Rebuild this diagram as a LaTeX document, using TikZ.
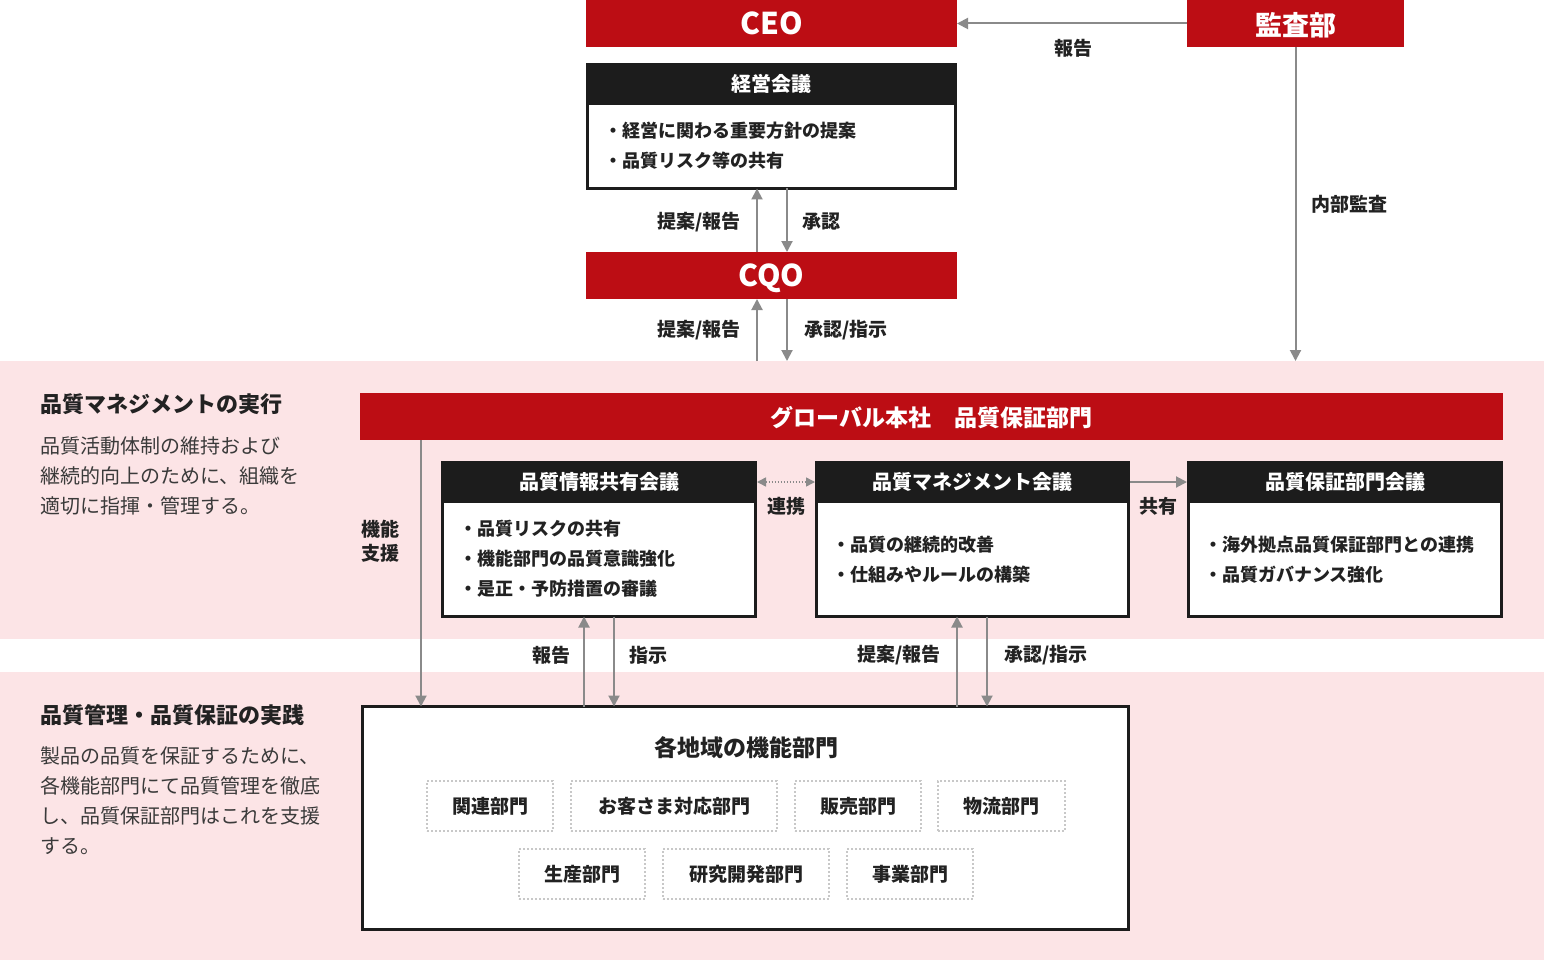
\documentclass[tikz,border=0pt]{standalone}
\usepackage{fontspec}
\setmainfont{Noto Sans CJK JP}
\usetikzlibrary{arrows.meta}
\definecolor{qred}{HTML}{BC0D14}
\definecolor{qpink}{HTML}{FCE4E6}
\definecolor{qdark}{HTML}{1C1C1C}
\definecolor{qgray}{HTML}{8A8A8A}
\definecolor{qdot}{HTML}{C8C8C8}
\definecolor{qtext}{HTML}{222222}
\definecolor{qbody}{HTML}{3A3A3A}
\newcommand{\fs}[1]{\fontsize{#1}{#1}\selectfont}
\begin{document}
\begin{tikzpicture}[x=1pt,y=-1pt,
  redbar/.style={fill=qred, text=white, inner sep=0pt, outer sep=0pt, text depth=0pt, font=\bfseries\fs{30}},
  framebox/.style={draw=qdark, line width=3pt, fill=white, inner sep=0pt, outer sep=0pt},
  headbar/.style={fill=qdark, text=white, inner sep=0pt, outer sep=0pt, font=\bfseries\fs{20}},
  bullet/.style={anchor=west, inner sep=0pt, text=qtext, font=\bfseries\fs{18}},
  lbl/.style={inner sep=0pt, text=qtext, font=\bfseries\fs{19}},
  unitbox/.style={draw=qdot, line width=1.5pt, dash pattern=on 2pt off 2pt, inner sep=0pt, outer sep=0pt, text=qtext, font=\bfseries\fs{19}, minimum height=50pt},
  arr/.style={draw=qgray, line width=2pt, -{Triangle[width=11pt,length=11pt]}},
  dotarr/.style={draw=qgray, line width=1.5pt, dash pattern=on 1.5pt off 1.5pt, {Triangle[width=9pt,length=9pt]}-{Triangle[width=9pt,length=9pt]}},
  sidehead/.style={anchor=west, inner sep=0pt, text=qtext, font=\bfseries\fs{22}},
  sidebody/.style={anchor=west, inner sep=0pt, text=qbody, font=\fs{20}}
]
\useasboundingbox (0,0) rectangle (1544,960);
\fill[white] (0,0) rectangle (1544,960);
% bands
\fill[qpink] (0,361) rectangle (1544,639);
\fill[qpink] (0,672) rectangle (1544,960);
\coordinate (bandtop) at (0,361);

% top
\node[redbar, minimum width=371pt, minimum height=47pt] (ceo) at (771.5,23.5) {CEO};
\node[redbar, minimum width=217pt, minimum height=47pt, font=\bfseries\fs{27}] (audit) at (1295.5,23.5) {監査部};
\node[framebox, minimum width=368pt, minimum height=124pt] (keiei) at (771.5,126.5) {};
\node[headbar, minimum width=371pt, minimum height=42pt] (keieih) at (771.5,84) {経営会議};
\node[bullet] (kb1) at (604,131) {・経営に関わる重要方針の提案};
\node[bullet] (kb2) at (604,161) {・品質リスク等の共有};
\node[redbar, minimum width=371pt, minimum height=47pt] (cqo) at (771.5,275.5) {CQO};

\draw[arr] (audit.west) -- (ceo.east);
\node[lbl] (l1) at (1073,48) {報告};
\draw[arr] ([xshift=-14.5pt]cqo.north) -- ([xshift=-14.5pt]keiei.south);
\draw[arr] ([xshift=15.5pt]keiei.south) -- ([xshift=15.5pt]cqo.north);
\node[lbl] (l2) at (699,222) {提案/報告};
\node[lbl] (l3) at (821,222) {承認};
\draw[arr] ([xshift=-14.5pt]cqo.south |- bandtop) -- ([xshift=-14.5pt]cqo.south);
\draw[arr] ([xshift=15.5pt]cqo.south) -- ([xshift=15.5pt]cqo.south |- bandtop);
\node[lbl] (l4) at (699,330) {提案/報告};
\node[lbl] (l5) at (846,330) {承認/指示};
\draw[arr] (audit.south) -- (audit.south |- bandtop);
\node[lbl] (l6) at (1349,204) {内部監査};

% HQ
\node[redbar, minimum width=1143pt, minimum height=47pt, font=\bfseries\fs{23}] (hq) at (931.5,416.5) {グローバル本社　品質保証部門};

% meetings
\node[framebox, minimum width=313pt, minimum height=154pt] (m1) at (599,539.5) {};
\node[headbar, minimum width=316pt, minimum height=42pt] (m1h) at (599,482) {品質情報共有会議};
\node[bullet] (m1b1) at (459,529) {・品質リスクの共有};
\node[bullet] (m1b2) at (459,559) {・機能部門の品質意識強化};
\node[bullet] (m1b3) at (459,589) {・是正・予防措置の審議};

\node[framebox, minimum width=312pt, minimum height=154pt] (m2) at (972.5,539.5) {};
\node[headbar, minimum width=315pt, minimum height=42pt] (m2h) at (972.5,482) {品質マネジメント会議};
\node[bullet] (m2b1) at (832,545) {・品質の継続的改善};
\node[bullet] (m2b2) at (832,575) {・仕組みやルールの構築};

\node[framebox, minimum width=313pt, minimum height=154pt] (m3) at (1345,539.5) {};
\node[headbar, minimum width=316pt, minimum height=42pt] (m3h) at (1345,482) {品質保証部門会議};
\node[bullet] (m3b1) at (1204,545) {・海外拠点品質保証部門との連携};
\node[bullet] (m3b2) at (1204,575) {・品質ガバナンス強化};

\draw[dotarr] (m1h.east) -- (m2h.west);
\node[lbl] (l7) at (786,506) {連携};
\draw[arr] (m2h.east) -- (m3h.west);
\node[lbl] (l8) at (1158,506) {共有};

% bottom
\node[framebox, minimum width=766pt, minimum height=223pt] (bot) at (745.5,818) {};
\node[lbl, font=\bfseries\fs{23}] (bt) at (746,748) {各地域の機能部門};
\node[unitbox, minimum width=126pt] (u1) at (490,806) {関連部門};
\node[unitbox, minimum width=206pt] (u2) at (674,806) {お客さま対応部門};
\node[unitbox, minimum width=126pt] (u3) at (858,806) {販売部門};
\node[unitbox, minimum width=127pt] (u4) at (1001.5,806) {物流部門};
\node[unitbox, minimum width=126pt] (u5) at (582,874) {生産部門};
\node[unitbox, minimum width=166pt] (u6) at (746,874) {研究開発部門};
\node[unitbox, minimum width=126pt] (u7) at (910,874) {事業部門};

\coordinate (sx) at (421,0);
\draw[arr] (hq.south -| sx) -- (bot.north -| sx);
\node[lbl, align=center] (l9) at (380,541) {機能\\[5pt]支援};

\draw[arr] ([xshift=-15pt]bot.north -| m1.south) -- ([xshift=-15pt]m1.south);
\draw[arr] ([xshift=15pt]m1.south) -- ([xshift=15pt]bot.north -| m1.south);
\node[lbl] (l10) at (551,655) {報告};
\node[lbl] (l11) at (648,655) {指示};
\draw[arr] ([xshift=-15.5pt]bot.north -| m2.south) -- ([xshift=-15.5pt]m2.south);
\draw[arr] ([xshift=14.5pt]m2.south) -- ([xshift=14.5pt]bot.north -| m2.south);
\node[lbl] (l12) at (899,655) {提案/報告};
\node[lbl] (l13) at (1046,655) {承認/指示};

% side texts
\node[sidehead] (s1) at (40,404) {品質マネジメントの実行};
\node[sidebody] (s1a) at (40,446) {品質活動体制の維持および};
\node[sidebody] (s1b) at (40,476) {継続的向上のために、組織を};
\node[sidebody] (s1c) at (40,506) {適切に指揮・管理する。};
\node[sidehead] (s2) at (40,715) {品質管理・品質保証の実践};
\node[sidebody] (s2a) at (40,756) {製品の品質を保証するために、};
\node[sidebody] (s2b) at (40,786) {各機能部門にて品質管理を徹底};
\node[sidebody] (s2c) at (40,816) {し、品質保証部門はこれを支援};
\node[sidebody] (s2d) at (40,846) {する。};
\end{tikzpicture}
\end{document}
